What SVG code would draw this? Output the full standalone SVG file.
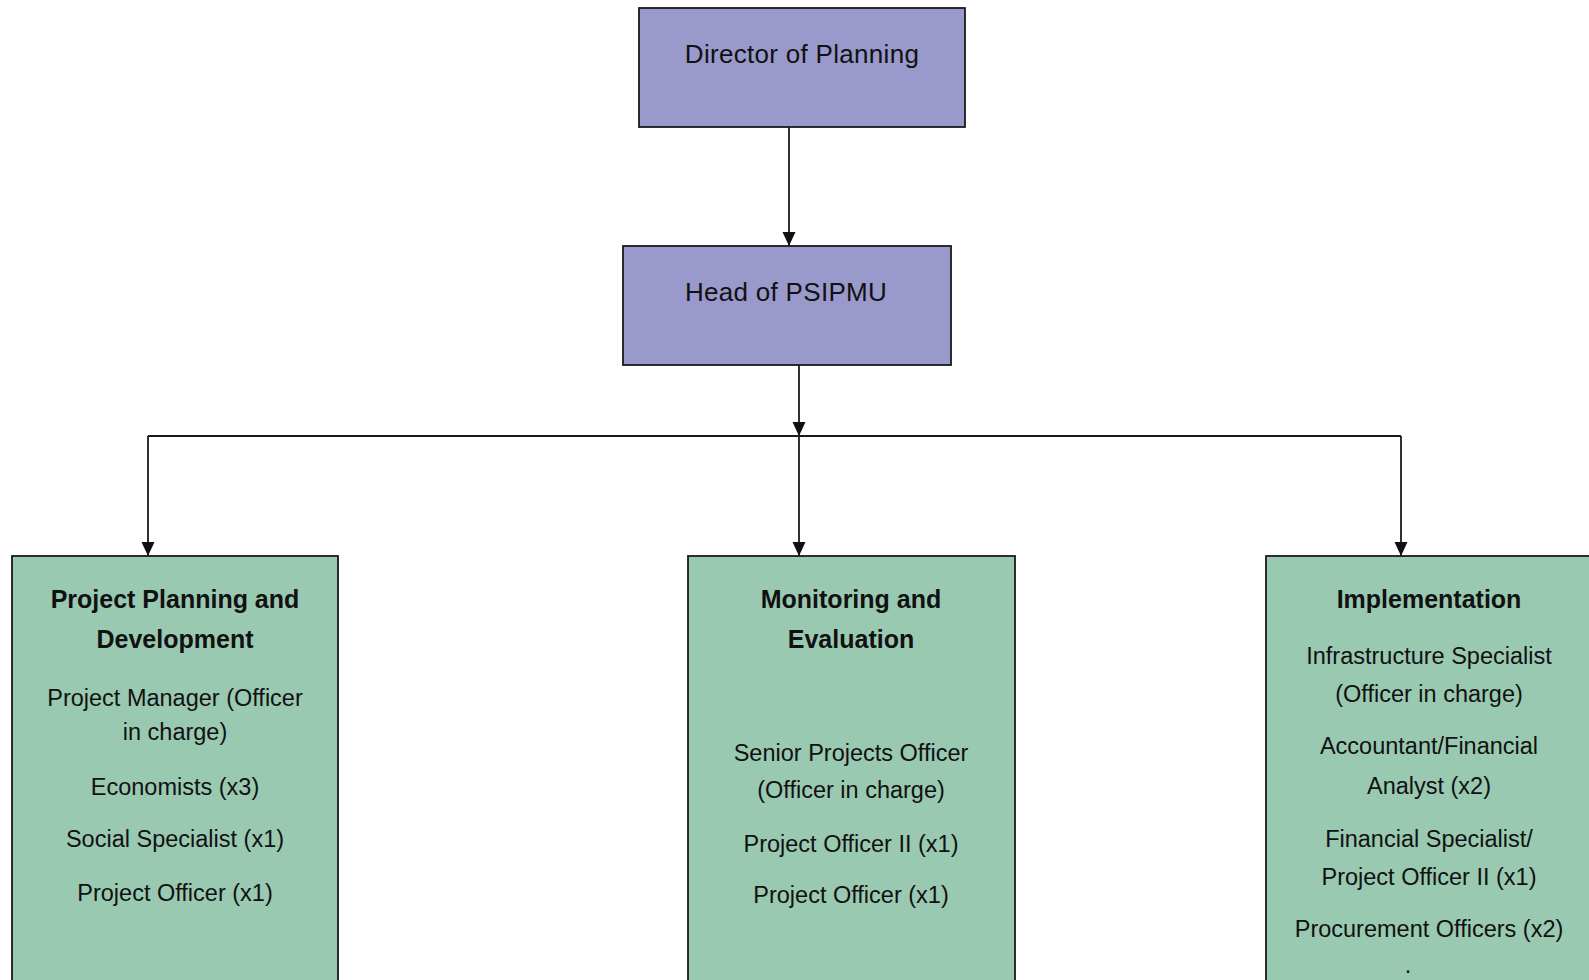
<svg xmlns="http://www.w3.org/2000/svg" width="1589" height="980" viewBox="0 0 1589 980">
<defs>
<style>
.top{fill:#9999CC;stroke:#1a1a1a;stroke-width:1.8}
.unit{fill:#99C9B1;stroke:#1a1a1a;stroke-width:1.8}
.tt{font-family:"Liberation Sans",Arial,sans-serif;font-size:26px;letter-spacing:0.3px;fill:#111;text-anchor:middle}
.hd{font-family:"Liberation Sans",Arial,sans-serif;font-size:25px;font-weight:bold;fill:#111;text-anchor:middle}
.bt{font-family:"Liberation Sans",Arial,sans-serif;font-size:23.5px;fill:#111;text-anchor:middle}
.ln{fill:none;stroke:#1a1a1a;stroke-width:1.8}
</style>
<marker id="arr" markerWidth="14" markerHeight="14" viewBox="0 0 14 14" refX="14" refY="7" orient="auto" markerUnits="userSpaceOnUse">
<path d="M0,0.5 L14,7 L0,13.5 Z" fill="#111"/>
</marker>
</defs>
<rect width="1589" height="980" fill="#ffffff"/>
<g id="connectors">
<line class="ln" x1="789" y1="127" x2="789" y2="246" marker-end="url(#arr)"/>
<line class="ln" x1="799" y1="365" x2="799" y2="436" marker-end="url(#arr)"/>
<line class="ln" x1="148" y1="436" x2="1401" y2="436"/>
<line class="ln" x1="148" y1="436" x2="148" y2="556" marker-end="url(#arr)"/>
<line class="ln" x1="799" y1="436" x2="799" y2="556" marker-end="url(#arr)"/>
<line class="ln" x1="1401" y1="436" x2="1401" y2="556" marker-end="url(#arr)"/>
</g>
<g id="director">
<rect class="top" x="639" y="8" width="326" height="119"/>
<text class="tt" x="802" y="63">Director of Planning</text>
</g>
<g id="head">
<rect class="top" x="623" y="246" width="328" height="119"/>
<text class="tt" x="786" y="301">Head of PSIPMU</text>
</g>
<g id="planning">
<rect class="unit" x="12" y="556" width="326" height="440"/>
<text class="hd" x="175" y="608">Project Planning and</text>
<text class="hd" x="175" y="648">Development</text>
<text class="bt" x="175" y="706">Project Manager (Officer</text>
<text class="bt" x="175" y="740">in charge)</text>
<text class="bt" x="175" y="795">Economists (x3)</text>
<text class="bt" x="175" y="847">Social Specialist (x1)</text>
<text class="bt" x="175" y="901">Project Officer (x1)</text>
</g>
<g id="monitoring">
<rect class="unit" x="688" y="556" width="327" height="440"/>
<text class="hd" x="851" y="608">Monitoring and</text>
<text class="hd" x="851" y="648">Evaluation</text>
<text class="bt" x="851" y="761">Senior Projects Officer</text>
<text class="bt" x="851" y="798">(Officer in charge)</text>
<text class="bt" x="851" y="852">Project Officer II (x1)</text>
<text class="bt" x="851" y="903">Project Officer (x1)</text>
</g>
<g id="implementation">
<rect class="unit" x="1266" y="556" width="330" height="440"/>
<text class="hd" x="1429" y="608">Implementation</text>
<text class="bt" x="1429" y="664">Infrastructure Specialist</text>
<text class="bt" x="1429" y="702">(Officer in charge)</text>
<text class="bt" x="1429" y="754">Accountant/Financial</text>
<text class="bt" x="1429" y="794">Analyst (x2)</text>
<text class="bt" x="1429" y="847">Financial Specialist/</text>
<text class="bt" x="1429" y="885">Project Officer II (x1)</text>
<text class="bt" x="1429" y="937">Procurement Officers (x2)</text>
<text class="bt" x="1408" y="973">.</text>
</g>
</svg>
